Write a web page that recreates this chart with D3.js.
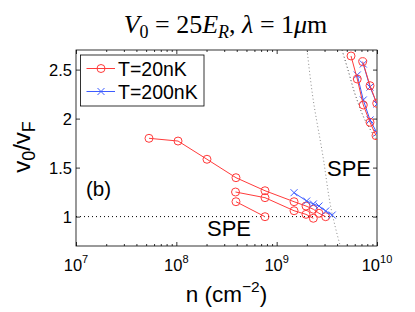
<!DOCTYPE html>
<html><head><meta charset="utf-8">
<script src="https://cdn.jsdelivr.net/npm/d3@7"></script>
<style>body{margin:0;background:#fff}svg{display:block}</style>
</head><body>
<svg id="c" width="415" height="312"></svg>
<script>
// ---- data ----
const xTicks = [1e7, 1e8, 1e9, 1e10];
const xTickExp = ["7", "8", "9", "10"];
const yTicks = [1, 1.5, 2, 2.5];
const yTickLabels = ["1", "1.5", "2", "2.5"];

// T = 20nK (red circles)
const redA_n = [5.34e7, 1.04e8, 2.02e8, 3.93e8, 7.65e8, 1.49e9, 1.96e9, 2.32e9, 2.64e9, 3.08e9];
const redA_v = [1.799, 1.771, 1.585, 1.397, 1.264, 1.152, 1.108, 1.075, 1.034, 0.999];
const redB_n = [3.89e8, 7.65e8, 1.49e9, 1.96e9, 2.32e9];
const redB_v = [1.251, 1.193, 1.060, 1.023, 0.983];
const redC_n = [3.93e8, 7.65e8];
const redC_v = [1.152, 0.999];
const redD_n = [5.51e9, 6.36e9, 7.30e9, 8.52e9, 9.77e9];
const redD_v = [2.639, 2.404, 2.139, 1.962, 1.826];
const redE_n = [7.20e9, 8.52e9, 9.93e9];
const redE_v = [2.581, 2.336, 2.156];

// T = 200nK (blue crosses)
const blueA_n = [1.49e9, 1.99e9, 2.32e9, 2.64e9, 3.08e9, 3.58e9];
const blueA_v = [1.244, 1.159, 1.129, 1.108, 1.057, 1.016];
const blueB_n = [7.30e9, 8.52e9, 1.0e10];
const blueB_v = [2.557, 2.322, 2.149];
const blueC_n = [6.36e9, 7.30e9, 8.52e9, 1.0e10];
const blueC_v = [2.445, 2.190, 1.986, 1.853];

// dotted boundary curves
const bound1_n = [2.01e9, 2.30e9, 2.88e9, 3.54e9, 4.28e9, 4.6e9];
const bound1_v = [2.70, 2.21, 1.629, 1.05, 0.71, 0.6];
const bound2_n = [4.48e9, 5.14e9, 6.18e9, 7.77e9, 1.0e10];
const bound2_v = [2.70, 2.496, 2.22, 1.965, 1.78];

const legendLabels = ["T=20nK", "T=200nK"];
const red = "#ff3b3b", blue = "#3d5cff";

// ---- layout ----
const L = 76, R = 377, T = 50, B = 246;
const svg = d3.select("#c");
const x = d3.scaleLog().domain([1e7, 1e10]).range([L, R]);
const y = d3.scaleLinear().domain([0.7, 2.7]).range([B, T]);
const sans = "'Liberation Sans', Arial, Helvetica, sans-serif";

svg.append("defs").append("clipPath").attr("id", "clip")
  .append("rect").attr("x", L).attr("y", T).attr("width", R - L).attr("height", B - T);

// axes with inward ticks
const minor = [];
for (let e = 7; e < 10; e++) for (let k = 2; k <= 9; k++) minor.push(k * Math.pow(10, e));
function tickG(axisFn, tr) {
  const g = svg.append("g").attr("transform", tr).call(axisFn);
  g.select(".domain").remove();
  g.selectAll("text").remove();
  g.selectAll("line").attr("stroke", "#000").attr("stroke-width", 0.8);
  return g;
}
tickG(d3.axisBottom(x).tickValues(xTicks).tickSize(-4), `translate(0,${B})`);
tickG(d3.axisBottom(x).tickValues(minor).tickSize(-2), `translate(0,${B})`);
tickG(d3.axisTop(x).tickValues(xTicks).tickSize(-4), `translate(0,${T})`);
tickG(d3.axisTop(x).tickValues(minor).tickSize(-2), `translate(0,${T})`);
tickG(d3.axisLeft(y).tickValues(yTicks).tickSize(-4), `translate(${L},0)`);
tickG(d3.axisRight(y).tickValues(yTicks).tickSize(-4), `translate(${R},0)`);

// tick labels
const xl = svg.append("g").attr("font-family", sans).attr("fill", "#000");
xTicks.forEach((t, i) => {
  const tx = xl.append("text").attr("x", x(t)).attr("y", 271).attr("text-anchor", "middle").attr("font-size", 16.5);
  tx.append("tspan").text("10");
  tx.append("tspan").attr("font-size", 11).attr("dy", -8).text(xTickExp[i]);
});
yTicks.forEach((t, i) => {
  xl.append("text").attr("x", 72).attr("y", y(t) + 6).attr("text-anchor", "end")
    .attr("font-size", 16.5).text(yTickLabels[i]);
});

// box
svg.append("rect").attr("x", L).attr("y", T).attr("width", R - L).attr("height", B - T)
  .attr("fill", "none").attr("stroke", "#000").attr("stroke-width", 0.8);

const plot = svg.append("g").attr("clip-path", "url(#clip)");

// reference line v=1
plot.append("line").attr("x1", L).attr("x2", R).attr("y1", y(1)).attr("y2", y(1))
  .attr("stroke", "#000").attr("stroke-width", 1).attr("stroke-dasharray", "1,3");

const line = d3.line().x(d => x(d[0])).y(d => y(d[1]));
const zip = (a, b) => a.map((v, i) => [v, b[i]]);
const curveLine = d3.line().curve(d3.curveMonotoneY).x(d => x(d[0])).y(d => y(d[1]));

plot.append("path").datum(zip(bound1_n, bound1_v)).attr("d", curveLine)
  .attr("fill", "none").attr("stroke", "#8a8a8a").attr("stroke-width", 1).attr("stroke-dasharray", "1,2.5");
plot.append("path").datum(zip(bound2_n, bound2_v)).attr("d", curveLine)
  .attr("fill", "none").attr("stroke", "#444").attr("stroke-width", 1).attr("stroke-dasharray", "1,2.5");

function drawSeries(ns, vs, color, marker) {
  const pts = zip(ns, vs);
  plot.append("path").datum(pts).attr("d", line).attr("fill", "none")
    .attr("stroke", color).attr("stroke-width", 1);
  pts.forEach(p => drawMarker(plot, x(p[0]), y(p[1]), color, marker));
}
function drawMarker(g, cx, cy, color, marker) {
  if (marker === "o") {
    g.append("circle").attr("cx", cx).attr("cy", cy).attr("r", 4)
      .attr("fill", "none").attr("stroke", color).attr("stroke-width", 1);
  } else {
    const s = 3.5;
    g.append("path").attr("d", `M${cx - s},${cy - s}L${cx + s},${cy + s}M${cx - s},${cy + s}L${cx + s},${cy - s}`)
      .attr("stroke", color).attr("stroke-width", 1);
  }
}
drawSeries(redA_n, redA_v, red, "o");
drawSeries(redB_n, redB_v, red, "o");
drawSeries(redC_n, redC_v, red, "o");
drawSeries(blueA_n, blueA_v, blue, "x");
drawSeries(blueB_n, blueB_v, blue, "x");
drawSeries(blueC_n, blueC_v, blue, "x");
drawSeries(redD_n, redD_v, red, "o");
drawSeries(redE_n, redE_v, red, "o");

// annotations
svg.append("text").attr("x", 86).attr("y", 196).attr("font-family", sans).attr("font-size", 20.5).text("(b)");
svg.append("text").attr("x", 207).attr("y", 236).attr("font-family", sans).attr("font-size", 22).text("SPE");
svg.append("text").attr("x", 327).attr("y", 176).attr("font-family", sans).attr("font-size", 22).text("SPE");

// legend
const lg = svg.append("g");
lg.append("rect").attr("x", 80.5).attr("y", 55).attr("width", 123.5).attr("height", 51)
  .attr("fill", "#fff").attr("stroke", "#000").attr("stroke-width", 0.8);
[[red, "o", 68.5], [blue, "x", 91.5]].forEach((d, i) => {
  lg.append("line").attr("x1", 86.5).attr("x2", 115).attr("y1", d[2]).attr("y2", d[2]).attr("stroke", d[0]).attr("stroke-width", 1);
  drawMarker(lg, 101, d[2], d[0], d[1]);
  lg.append("text").attr("x", 118).attr("y", d[2] + 7).attr("font-family", sans).attr("font-size", 19.5).text(legendLabels[i]);
});

// axis labels
const xlab = svg.append("text").attr("x", 226.5).attr("y", 302).attr("text-anchor", "middle")
  .attr("font-family", sans).attr("font-size", 22.5);
xlab.append("tspan").text("n (cm");
xlab.append("tspan").attr("font-size", 15.5).attr("dy", -10).text("−2");
xlab.append("tspan").attr("dy", 10).text(")");

const ylab = svg.append("text").attr("transform", `translate(30,147) rotate(-90)`).attr("text-anchor", "middle")
  .attr("font-family", sans).attr("font-size", 24);
ylab.append("tspan").text("v");
ylab.append("tspan").attr("font-size", 18).attr("dy", 5).text("0");
ylab.append("tspan").attr("dy", -5).text("/v");
ylab.append("tspan").attr("font-size", 18).attr("dy", 5).text("F");

// title
const serif = "'Liberation Serif', 'DejaVu Serif', serif";
const tt = svg.append("text").attr("x", 225.5).attr("y", 33).attr("text-anchor", "middle")
  .attr("font-family", serif).attr("font-size", 26);
tt.append("tspan").attr("font-style", "italic").text("V");
tt.append("tspan").attr("font-size", 18).attr("dy", 5).text("0");
tt.append("tspan").attr("dy", -5).text(" = 25");
tt.append("tspan").attr("font-style", "italic").text("E");
tt.append("tspan").attr("font-size", 18).attr("font-style", "italic").attr("dy", 5).text("R");
tt.append("tspan").attr("dy", -5).text(", ");
tt.append("tspan").attr("font-style", "italic").text("λ");
tt.append("tspan").text(" = 1");
tt.append("tspan").attr("font-style", "italic").text("μ");
tt.append("tspan").text("m");
</script>
</body></html>
